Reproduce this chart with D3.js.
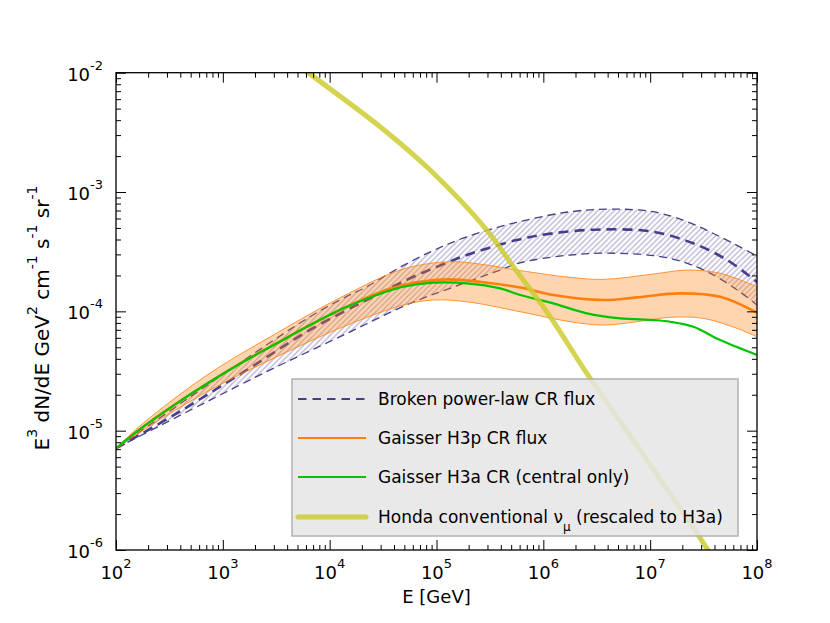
<!DOCTYPE html>
<html>
<head>
<meta charset="utf-8">
<script src="https://cdn.jsdelivr.net/npm/d3@7"></script>
<style>
  body { margin: 0; background: #fff; }
  text { font-family: "DejaVu Sans", sans-serif; fill: #000; }
</style>
</head>
<body>
<div id="main"></div>
<script>
const ctx = { w: 830, h: 623 };
const plot = { left: 116, right: 757, top: 72.7, bottom: 550 };

// values as log10(E/GeV) and log10(E^3 dN/dE)
const bplCentralLogE = [2.0, 2.568, 3.192, 3.816, 4.347, 4.753, 5.096, 5.284, 5.752, 6.092, 6.56, 7.028, 7.403, 7.721, 8.0];
const bplCentral     = [-5.148, -4.855, -4.51, -4.155, -3.905, -3.723, -3.593, -3.528, -3.402, -3.346, -3.313, -3.333, -3.430, -3.570, -3.754];
const bplUpperLogE   = [2.0, 2.88, 3.816, 4.125, 4.347, 4.659, 4.971, 5.284, 5.752, 6.251, 6.654, 7.028, 7.346, 7.655, 8.0];
const bplUpper       = [-5.148, -4.603, -4.045, -3.891, -3.794, -3.63, -3.49, -3.375, -3.254, -3.165, -3.143, -3.165, -3.249, -3.375, -3.536];
const bplLowerLogE   = [2.0, 2.256, 2.88, 3.505, 4.128, 4.753, 5.127, 5.596, 5.783, 6.251, 6.719, 7.187, 7.534, 7.815, 8.0];
const bplLower       = [-5.148, -5.03, -4.744, -4.464, -4.199, -3.933, -3.807, -3.654, -3.593, -3.528, -3.514, -3.556, -3.668, -3.821, -3.947];

const h3pCentralLogE = [2.0, 2.256, 2.568, 2.880, 3.192, 3.505, 3.816, 4.128, 4.441, 4.690, 5.096, 5.436, 5.783, 6.094, 6.563, 6.876, 7.281, 7.655, 8.0];
const h3pCentral     = [-5.148, -4.967, -4.771, -4.590, -4.422, -4.268, -4.115, -3.975, -3.850, -3.779, -3.732, -3.756, -3.800, -3.863, -3.905, -3.883, -3.849, -3.878, -4.012];
const h3pUpperLogE   = [2.0, 2.256, 2.880, 3.505, 4.128, 4.690, 5.127, 5.408, 5.783, 6.251, 6.563, 7.031, 7.344, 7.655, 8.0];
const h3pUpper       = [-5.148, -4.936, -4.517, -4.182, -3.872, -3.645, -3.584, -3.604, -3.658, -3.715, -3.732, -3.687, -3.654, -3.681, -3.794];
const h3pLowerLogE   = [2.0, 2.256, 2.880, 3.505, 4.128, 4.690, 4.971, 5.284, 5.783, 6.251, 6.563, 6.876, 7.187, 7.499, 7.811, 8.0];
const h3pLower       = [-5.148, -4.995, -4.660, -4.381, -4.129, -3.947, -3.905, -3.920, -4.003, -4.087, -4.115, -4.087, -4.050, -4.059, -4.142, -4.213];

const h3aLogE = [2.0, 2.256, 2.568, 2.880, 3.192, 3.505, 3.816, 4.128, 4.441, 4.690, 4.971, 5.284, 5.596, 5.783, 6.094, 6.407, 6.719, 7.031, 7.187, 7.405, 7.655, 8.0];
const h3a     = [-5.148, -4.967, -4.771, -4.590, -4.422, -4.268, -4.115, -3.975, -3.863, -3.794, -3.760, -3.765, -3.807, -3.863, -3.933, -4.017, -4.059, -4.073, -4.087, -4.129, -4.241, -4.366];

const hondaLogE = [3.6, 3.798, 4.472, 4.940, 5.471, 5.720, 6.064, 6.407, 6.906, 7.531, 7.75];
const honda     = [-1.87, -2.0, -2.453, -2.816, -3.319, -3.626, -4.045, -4.52, -5.163, -5.987, -6.32];

const xTickExp = [2, 3, 4, 5, 6, 7, 8];
const yTickExp = [-6, -5, -4, -3, -2];
const legendLabels = ["Broken power-law CR flux", "Gaisser H3p CR flux", "Gaisser H3a CR (central only)", "Honda conventional"];

function pts(le, lf) { return le.map((e, i) => [Math.pow(10, e), Math.pow(10, lf[i])]); }

function createViz() {
    const svg = d3.select("#main").append("svg")
        .attr("width", ctx.w).attr("height", ctx.h);

    const x = d3.scaleLog().domain([1e2, 1e8]).range([plot.left, plot.right]);
    const y = d3.scaleLog().domain([1e-6, 1e-2]).range([plot.bottom, plot.top]);

    const defs = svg.append("defs");
    defs.append("clipPath").attr("id", "clip").append("rect")
        .attr("x", plot.left).attr("y", plot.top)
        .attr("width", plot.right - plot.left).attr("height", plot.bottom - plot.top);
    const hatch = defs.append("pattern").attr("id", "hatch")
        .attr("patternUnits", "userSpaceOnUse").attr("width", 5.5).attr("height", 5.5);
    hatch.append("path").attr("d", "M0,5.5 L5.5,0 M-1,1 L1,-1 M4.5,6.5 L6.5,4.5")
        .attr("stroke", "#483d8b").attr("stroke-opacity", 0.38).attr("stroke-width", 1.3);

    const line = d3.line().x(d => x(d[0])).y(d => y(d[1])).curve(d3.curveCatmullRom.alpha(0.5));
    const band = (up, lo) => line(up) + line(lo.slice().reverse()).replace(/^M/, "L") + "Z";

    const g = svg.append("g").attr("clip-path", "url(#clip)");

    // broken power law band
    const bU = pts(bplUpperLogE, bplUpper), bL = pts(bplLowerLogE, bplLower), bC = pts(bplCentralLogE, bplCentral);
    g.append("path").attr("d", band(bU, bL)).attr("fill", "url(#hatch)");
    g.append("path").attr("d", line(bU)).attr("fill", "none").attr("stroke", "#483d8b")
        .attr("stroke-width", 1.3).attr("stroke-dasharray", "8,5");
    g.append("path").attr("d", line(bL)).attr("fill", "none").attr("stroke", "#483d8b")
        .attr("stroke-width", 1.3).attr("stroke-dasharray", "8,5");
    g.append("path").attr("d", line(bC)).attr("fill", "none").attr("stroke", "#483d8b")
        .attr("stroke-width", 2.6).attr("stroke-dasharray", "10,6");

    // H3p band
    const pU = pts(h3pUpperLogE, h3pUpper), pL = pts(h3pLowerLogE, h3pLower);
    g.append("path").attr("d", band(pU, pL)).attr("fill", "#ff7f0e").attr("fill-opacity", 0.33);
    [pU, pL].forEach(d => g.append("path").attr("d", line(d)).attr("fill", "none")
        .attr("stroke", "#ff7f0e").attr("stroke-opacity", 0.8).attr("stroke-width", 1));
    g.append("path").attr("d", line(pts(h3pCentralLogE, h3pCentral))).attr("fill", "none")
        .attr("stroke", "#ff7f0e").attr("stroke-width", 2.6);

    // H3a
    g.append("path").attr("d", line(pts(h3aLogE, h3a))).attr("fill", "none")
        .attr("stroke", "#00c400").attr("stroke-width", 2.2);

    // Honda
    g.append("path").attr("d", line(pts(hondaLogE, honda))).attr("fill", "none")
        .attr("stroke", "#cccc33").attr("stroke-opacity", 0.85).attr("stroke-width", 5);

    // ticks (inward, all four sides)
    const minorX = [], minorY = [];
    xTickExp.slice(0, -1).forEach(e => { for (let k = 2; k < 10; k++) minorX.push(k * Math.pow(10, e)); });
    yTickExp.slice(0, -1).forEach(e => { for (let k = 2; k < 10; k++) minorY.push(k * Math.pow(10, e)); });
    const majorX = xTickExp.map(e => Math.pow(10, e)), majorY = yTickExp.map(e => Math.pow(10, e));

    const axes = svg.append("g");
    function addAxis(axisFn, scale, vals, size, tr) {
        const a = axes.append("g").attr("transform", tr)
            .call(axisFn(scale).tickValues(vals).tickSizeInner(size).tickSizeOuter(0).tickFormat(""));
        a.select(".domain").remove();
        a.selectAll("line").attr("stroke", "#000").attr("stroke-width", 1);
    }
    addAxis(d3.axisBottom, x, majorX, -10, `translate(0,${plot.bottom})`);
    addAxis(d3.axisBottom, x, minorX, -5, `translate(0,${plot.bottom})`);
    addAxis(d3.axisTop, x, majorX, -10, `translate(0,${plot.top})`);
    addAxis(d3.axisTop, x, minorX, -5, `translate(0,${plot.top})`);
    addAxis(d3.axisLeft, y, majorY, -10, `translate(${plot.left},0)`);
    addAxis(d3.axisLeft, y, minorY, -5, `translate(${plot.left},0)`);
    addAxis(d3.axisRight, y, majorY, -10, `translate(${plot.right},0)`);
    addAxis(d3.axisRight, y, minorY, -5, `translate(${plot.right},0)`);

    svg.append("rect").attr("x", plot.left).attr("y", plot.top)
        .attr("width", plot.right - plot.left).attr("height", plot.bottom - plot.top)
        .attr("fill", "none").attr("stroke", "#000").attr("stroke-width", 1.3);

    // tick labels
    xTickExp.forEach(e => {
        const t = svg.append("text").attr("x", x(Math.pow(10, e))).attr("y", plot.bottom + 29)
            .attr("text-anchor", "middle").style("font-size", "18px");
        t.append("tspan").text("10");
        t.append("tspan").attr("dy", -11).style("font-size", "13px").text(e);
    });
    yTickExp.forEach(e => {
        const t = svg.append("text").attr("x", plot.left - 13).attr("y", y(Math.pow(10, e)) + 8)
            .attr("text-anchor", "end").style("font-size", "18px");
        t.append("tspan").text("10");
        t.append("tspan").attr("dy", -11).style("font-size", "13px").text(e);
    });

    // axis titles
    svg.append("text").attr("x", (plot.left + plot.right) / 2).attr("y", 603)
        .attr("text-anchor", "middle").style("font-size", "18px").text("E [GeV]");
    const yl = svg.append("text").attr("transform", `translate(49,318) rotate(-90)`)
        .attr("text-anchor", "middle").style("font-size", "20px");
    const parts = [["E", "3"], [" dN/dE GeV", "2"], [" cm", "-1"], [" s", "-1"], [" sr", "-1"]];
    parts.forEach((p, i) => {
        yl.append("tspan").attr("dy", i === 0 ? null : 12).text(p[0]);
        yl.append("tspan").attr("dy", -12).style("font-size", "14px").text(p[1]);
    });

    // legend
    const lg = svg.append("g");
    lg.append("rect").attr("x", 292).attr("y", 379).attr("width", 446).attr("height", 157)
        .attr("fill", "#e5e5e5").attr("fill-opacity", 0.85).attr("stroke", "#b0b0b0").attr("stroke-width", 1.5);
    const rows = [399, 438, 477, 517];
    const styles = [
        { c: "#483d8b", w: 2, dash: "8.5,6" },
        { c: "#ff7f0e", w: 2.2, dash: null },
        { c: "#00c400", w: 2.2, dash: null },
        { c: "#cccc33", w: 5, dash: null, op: 0.85 }
    ];
    legendLabels.forEach((lab, i) => {
        const s = styles[i];
        lg.append("line").attr("x1", 298).attr("x2", 366).attr("y1", rows[i]).attr("y2", rows[i])
            .attr("stroke", s.c).attr("stroke-width", s.w).attr("stroke-dasharray", s.dash)
            .attr("stroke-opacity", s.op || 1).attr("stroke-linecap", i === 3 ? "round" : "butt");
        const t = lg.append("text").attr("x", 378).attr("y", rows[i] + 6).style("font-size", "17px");
        t.append("tspan").text(lab);
        if (i === 3) {
            t.append("tspan").text(" ν");
            t.append("tspan").attr("dy", 8).style("font-size", "12px").text("μ");
            t.append("tspan").attr("dy", -8).text(" (rescaled to H3a)");
        }
    });
}

createViz();
</script>
</body>
</html>
